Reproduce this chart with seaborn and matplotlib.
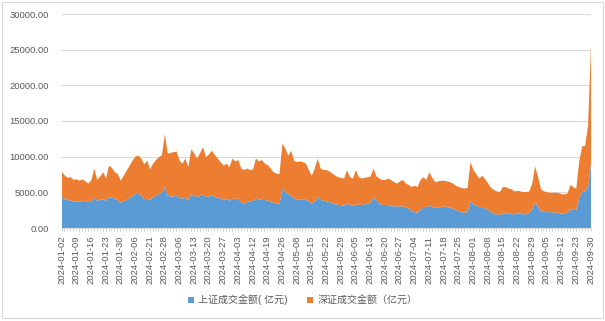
import numpy as np
import pandas as pd
import matplotlib
matplotlib.use("Agg")
import matplotlib.pyplot as plt
import seaborn as sns
from matplotlib.patches import Patch, Rectangle

# ---- data -------------------------------------------------------------
holidays = ["2024-01-01", "2024-02-09", "2024-02-12", "2024-02-13", "2024-02-14",
            "2024-02-15", "2024-02-16", "2024-04-04", "2024-04-05", "2024-05-01",
            "2024-05-02", "2024-05-03", "2024-06-10", "2024-09-16", "2024-09-17"]
dates = [d.strftime("%Y-%m-%d") for d in pd.bdate_range("2024-01-02", "2024-09-30")
         if d.strftime("%Y-%m-%d") not in holidays]

sh = [4400, 4100, 4000, 3900, 3800, 3800, 3800, 3800, 3900, 3700,
      3800, 4300, 3900, 4000, 4100, 3900, 4400, 4300, 4200, 4000,
      3600, 3800, 4000, 4300, 4500, 4900, 5000, 4600, 4100, 4200,
      4000, 4400, 4600, 4800, 5000, 5800, 4600, 4500, 4500, 4600,
      4300, 4200, 4300, 4000, 4800, 4600, 4400, 4600, 4800, 4400,
      4500, 4600, 4400, 4300, 4200, 4000, 4100, 3900, 4200, 4100,
      4200, 3600, 3500, 3700, 3800, 3900, 4200, 4100, 4000, 4000,
      3900, 3800, 3600, 3500, 3400, 5600, 5100, 4800, 4600, 4200,
      4000, 4100, 4100, 4000, 3800, 3500, 3800, 4400, 4000, 3900,
      3800, 3700, 3500, 3400, 3300, 3300, 3200, 3500, 3300, 3200,
      3400, 3300, 3300, 3400, 3500, 3600, 4400, 4000, 3500, 3300,
      3300, 3300, 3200, 3100, 3100, 3100, 3100, 3000, 2800, 2400,
      2300, 2200, 2600, 3000, 3000, 3200, 3000, 2900, 2900, 3000,
      3100, 3000, 2900, 2800, 2600, 2400, 2300, 2200, 2300, 3800,
      3400, 3200, 3000, 3000, 2800, 2600, 2300, 2100, 2000, 1900,
      2100, 2100, 2100, 2000, 2000, 2100, 2100, 2000, 2000, 2200,
      2700, 3700, 3000, 2400, 2300, 2300, 2300, 2300, 2200, 2200,
      2100, 2100, 2200, 2700, 2600, 2600, 4300, 5100, 5200, 5800,
      9000]

sz = [3500, 3300, 3100, 3300, 3000, 3100, 2900, 3100, 2700, 2600,
      3000, 4100, 2900, 3300, 3800, 3100, 4400, 4200, 3700, 3600,
      3100, 3600, 4100, 4500, 5000, 5200, 5200, 5200, 4900, 5300,
      4300, 4700, 5000, 5200, 5300, 7400, 5900, 6100, 6200, 6200,
      5200, 4900, 5500, 4600, 6300, 5900, 5400, 6000, 6600, 5600,
      5900, 6300, 5900, 5500, 5100, 4800, 5000, 4700, 5600, 5300,
      5400, 4800, 4700, 4700, 4400, 4400, 5600, 5300, 5600, 5100,
      5000, 4600, 4300, 4200, 4200, 6300, 6100, 5400, 6300, 5300,
      5300, 5300, 5200, 5100, 4400, 3900, 4600, 5400, 4400, 4300,
      4400, 4300, 4200, 4000, 3900, 3800, 3800, 4700, 3900, 3800,
      4800, 3900, 3700, 3700, 3700, 3700, 4000, 3300, 3500, 3500,
      3500, 3700, 3600, 3400, 3200, 3500, 3700, 3300, 3300, 3400,
      3700, 3600, 4200, 4200, 3800, 4700, 4100, 3600, 3700, 3700,
      3600, 3600, 3600, 3500, 3400, 3400, 3400, 3400, 3400, 5500,
      4800, 4400, 4000, 4400, 4100, 3700, 3400, 3300, 3200, 3200,
      3700, 3700, 3500, 3500, 3200, 3200, 3100, 3100, 3100, 3000,
      3600, 5000, 4200, 3100, 2900, 2800, 2700, 2700, 2800, 2800,
      2700, 2700, 2700, 3400, 3200, 3000, 5100, 6400, 6400, 8600,
      16500]

series_names = ["上证成交金额( 亿元)", "深证成交金额（亿元）"]
colors = ["#5B9BD5", "#ED7D31"]
y_ticks = [0, 5000, 10000, 15000, 20000, 25000, 30000]

df = pd.DataFrame({"date": dates, "sh": sh, "sz": sz})

# ---- style -------------------------------------------------------------
sns.set_theme(style="white")
plt.rcParams["font.family"] = ["Liberation Sans", "Noto Sans CJK SC", "DejaVu Sans"]

W, H = 605, 321
fig = plt.figure(figsize=(W / 100, H / 100), dpi=100)
fig.patch.set_facecolor("white")
ax = fig.add_axes([61.5 / W, 1 - 228 / H, 529 / W, (228 - 14) / H])

x = np.arange(len(df))
ax.stackplot(x, df["sh"], df["sz"], colors=colors, linewidth=0)

ax.set_xlim(0, len(df) - 1)
ax.set_ylim(0, 30000)
ax.set_yticks(y_ticks)
ax.set_yticklabels([f"{v:.2f}" for v in y_ticks], fontsize=6.8, color="#595959")
ax.tick_params(axis="y", length=0, pad=9)
ax.grid(axis="y", color="#D9D9D9", linewidth=0.8)
ax.set_axisbelow(True)

ax.set_xticks(x[::5])
ax.set_xticklabels(df["date"].iloc[::5], rotation=90, fontsize=6.8, color="#595959")
ax.set_xticks(x, minor=True)
ax.tick_params(axis="x", which="both", direction="out", length=2.5, width=0.5,
               color="#BFBFBF", pad=3, bottom=True)

for s in ["left", "right", "top"]:
    ax.spines[s].set_visible(False)
ax.spines["bottom"].set_color("#D9D9D9")
ax.spines["bottom"].set_linewidth(0.8)
ax.set_xlabel("")
ax.set_ylabel("")

handles = [Patch(facecolor=c, edgecolor="none") for c in colors]
fig.legend(handles, series_names, loc="center", bbox_to_anchor=(0.5, 1 - 300 / H),
           ncol=2, frameon=False, fontsize=7.2, handlelength=0.6, handleheight=0.6,
           handletextpad=0.4, columnspacing=2.0, labelcolor="#595959")

fig.add_artist(Rectangle((2 / W, 3 / H), (W - 4) / W, (H - 5) / H, transform=fig.transFigure,
                         fill=False, edgecolor="#D9D9D9", linewidth=0.8))

fig.savefig("out.png", dpi=100)
